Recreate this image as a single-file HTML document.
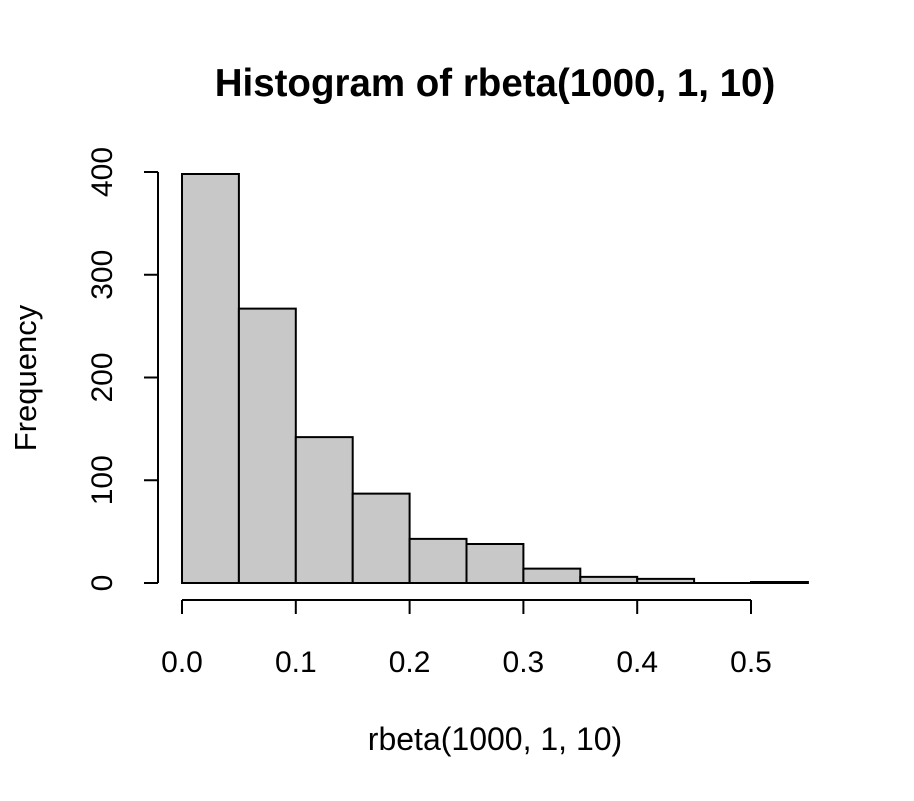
<!DOCTYPE html>
<html><head><meta charset="utf-8"><style>
body{margin:0;background:#fff}
svg text{font-family:"Liberation Sans",Arial,sans-serif;fill:#000}
</style></head><body>
<svg id="chart" width="914" height="796" viewBox="0 0 914 796">
<text x="495" y="96" font-size="38.5" font-weight="bold" text-anchor="middle">Histogram of rbeta(1000, 1, 10)</text>
<text x="495" y="750" font-size="32" text-anchor="middle">rbeta(1000, 1, 10)</text>
<text transform="translate(36,378) rotate(-90)" font-size="31" text-anchor="middle">Frequency</text>
<g id="bars"></g>
<g id="xaxis"></g>
<g id="yaxis"></g>
</svg>
<script>
const binStarts = [0,0.05,0.1,0.15,0.2,0.25,0.3,0.35,0.4,0.45,0.5];
const binWidth = 0.05;
const counts = [398,267,142,87,43,38,14,6,4,0,1];
const xTicks = [0,0.1,0.2,0.3,0.4,0.5];
const xTickLabels = ["0.0","0.1","0.2","0.3","0.4","0.5"];
const yTicks = [0,100,200,300,400];
const yTickLabels = ["0","100","200","300","400"];

const NS="http://www.w3.org/2000/svg";
const xs = v => 182 + v*(751-182)/0.5;
const ys = v => 583 - v*(583-172)/400;
function mk(tag, attrs, parent){const e=document.createElementNS(NS,tag);for(const k in attrs)e.setAttribute(k,attrs[k]);parent.appendChild(e);return e;}
const bars=document.getElementById('bars');
counts.forEach((c,i)=>{
  const x0=xs(binStarts[i]), x1=xs(binStarts[i]+binWidth), y0=ys(0), y1=ys(c);
  const r=mk('path',{d:`M${x0},${y0}L${x0},${y1}L${x1},${y1}L${x1},${y0}Z`,fill:'#c8c8c8',stroke:'#000','stroke-width':2},bars);
  
  
});
const xa=document.getElementById('xaxis');
mk('line',{x1:xs(xTicks[0]),x2:xs(xTicks[xTicks.length-1]),y1:600,y2:600,stroke:'#000','stroke-width':2},xa);
xTicks.forEach((t,i)=>{
  mk('line',{x1:xs(t),x2:xs(t),y1:600,y2:614,stroke:'#000','stroke-width':2},xa);
  const tx=mk('text',{x:xs(t),y:672,'font-size':30,'text-anchor':'middle'},xa);
  tx.textContent=xTickLabels[i];
  
  
});
const ya=document.getElementById('yaxis');
mk('line',{x1:158,x2:158,y1:ys(yTicks[0]),y2:ys(yTicks[yTicks.length-1]),stroke:'#000','stroke-width':2},ya);
yTicks.forEach((t,i)=>{
  mk('line',{x1:144,x2:158,y1:ys(t),y2:ys(t),stroke:'#000','stroke-width':2},ya);
  const tx=mk('text',{transform:`translate(112,${ys(t)}) rotate(-90)`,'font-size':30,'text-anchor':'middle'},ya);
  tx.textContent=yTickLabels[i];
  
  
});
</script>
</body></html>
